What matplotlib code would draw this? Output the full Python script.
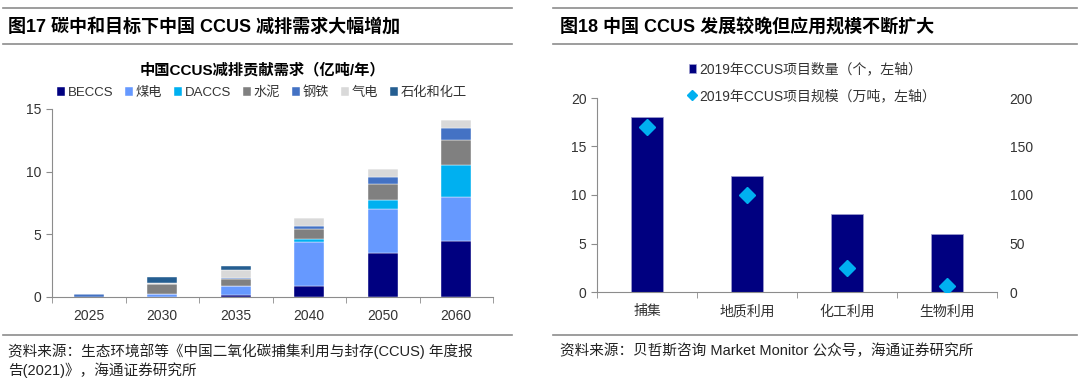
import matplotlib
matplotlib.use('Agg')
import matplotlib.pyplot as plt
from matplotlib.lines import Line2D
import numpy as np

plt.rcParams['font.family'] = ['Liberation Sans', 'Noto Sans CJK SC', 'DejaVu Sans']

# ---- data: figure 17 (亿吨/年) ----
years = ['2025', '2030', '2035', '2040', '2050', '2060']
series_names = ['BECCS', '煤电', 'DACCS', '水泥', '钢铁', '气电', '石化和化工']
beccs   = [0.0, 0.0, 0.15, 0.9, 3.5, 4.5]
coal    = [0.0, 0.2, 0.75, 3.5, 3.5, 3.5]
daccs   = [0.0, 0.0, 0.0, 0.2, 0.75, 2.5]
cement  = [0.0, 0.8, 0.5, 0.85, 1.3, 2.0]
steel   = [0.2, 0.0, 0.15, 0.25, 0.55, 1.0]
gas     = [0.0, 0.1, 0.6, 0.6, 0.6, 0.6]
petchem = [0.0, 0.5, 0.3, 0.0, 0.0, 0.0]
series_colors = ['#000080', '#6699ff', '#00b0f0', '#808080', '#4472c4', '#d9d9d9', '#255e91']

# ---- data: figure 18 ----
uses = ['捕集', '地质利用', '化工利用', '生物利用']
project_count = [18, 12, 8, 6]
project_scale = [170, 100, 25, 6]

W, H = 1080, 381
fig = plt.figure(figsize=(W / 100, H / 100), dpi=100)

def box(x0, y0, x1, y1):
    # pixel box (top-left origin) -> figure fraction rect
    return [x0 / W, 1 - y1 / H, (x1 - x0) / W, (y1 - y0) / H]

def hline(x0, x1, y, color='#8c8c8c', lw=1.2):
    fig.add_artist(Line2D([x0 / W, x1 / W], [1 - y / H, 1 - y / H], color=color, lw=lw))

# header / footer rules
for a, b in [(3, 512), (553, 1077)]:
    hline(a, b, 8)
    hline(a, b, 44)
    hline(a, b, 335)

fig.text(8 / W, 1 - 27 / H, '图17 碳中和目标下中国 CCUS 减排需求大幅增加', fontsize=13,
         fontweight='bold', va='center', ha='left')
fig.text(560 / W, 1 - 27 / H, '图18 中国 CCUS 发展较晚但应用规模不断扩大', fontsize=13,
         fontweight='bold', va='center', ha='left')

fig.text(8 / W, 1 - 351 / H, '资料来源：生态环境部等《中国二氧化碳捕集利用与封存(CCUS) 年度报',
         fontsize=10.5, va='center', ha='left', color='#222222')
fig.text(8 / W, 1 - 370 / H, '告(2021)》，海通证券研究所',
         fontsize=10.5, va='center', ha='left', color='#222222')
fig.text(560 / W, 1 - 351 / H, '资料来源：贝哲斯咨询 Market Monitor 公众号，海通证券研究所',
         fontsize=10.5, va='center', ha='left', color='#222222')

def style_axes(ax):
    ax.tick_params(axis='x', which='major', length=0, pad=9, labelsize=10, colors='#333333')
    ax.tick_params(axis='x', which='minor', length=4, color='#8c8c8c')
    ax.tick_params(axis='y', direction='out', length=4, width=0.8, color='#8c8c8c',
                   labelsize=10, labelcolor='#333333')
    for s in ['top', 'right']:
        ax.spines[s].set_visible(False)
    for s in ['left', 'bottom']:
        ax.spines[s].set_color('#8c8c8c')

# ---- left chart ----
ax1 = fig.add_axes(box(52, 109, 493, 297))
x = np.arange(len(years))
bottom = np.zeros(len(years))
handles = []
for name, vals, col in zip(series_names, [beccs, coal, daccs, cement, steel, gas, petchem], series_colors):
    h = ax1.bar(x, vals, 0.41, bottom=bottom, color=col, label=name, edgecolor='white', linewidth=0.3)
    bottom += np.array(vals)
    handles.append(h)
ax1.set_xlim(-0.5, len(years) - 0.5)
ax1.set_ylim(0, 15)
ax1.set_yticks([0, 5, 10, 15])
ax1.set_xticks(x)
ax1.set_xticklabels(years)
ax1.set_xticks(np.arange(-0.5, len(years)), minor=True)
style_axes(ax1)

fig.text(262 / W, 1 - 70 / H, '中国CCUS减排贡献需求（亿吨/年）', fontsize=11, fontweight='bold',
         ha='center', va='center')
fig.legend(handles=handles, loc='center', bbox_to_anchor=(262 / W, 1 - 93 / H), ncol=7,
           frameon=False, fontsize=9.5, handlelength=0.6, handleheight=0.6, handletextpad=0.2,
           columnspacing=0.9, labelcolor='#333333')

# ---- right chart ----
ax2 = fig.add_axes(box(597, 98, 997, 292))
x2 = np.arange(len(uses))
bars = ax2.bar(x2, project_count, 0.32, color='#000080', edgecolor='#a0a0d0', linewidth=0.5,
               label='2019年CCUS项目数量（个，左轴）')
ax2.set_xlim(-0.5, len(uses) - 0.5)
ax2.set_ylim(0, 20)
ax2.set_yticks([0, 5, 10, 15, 20])
ax2.set_xticks(x2)
ax2.set_xticklabels(uses)
ax2.set_xticks(np.arange(-0.5, len(uses)), minor=True)
style_axes(ax2)

ax3 = ax2.twinx()
pts, = ax3.plot(x2, project_scale, linestyle='none', marker='D', markersize=8, color='#00b0f0',
                label='2019年CCUS项目规模（万吨，左轴）')
ax3.set_ylim(0, 200)
ax3.set_yticks([0, 50, 100, 150, 200])
ax3.tick_params(axis='y', length=0, pad=9, labelsize=10, labelcolor='#333333')
for s in ax3.spines.values():
    s.set_visible(False)

fig.legend(handles=[bars, pts], loc='upper left', bbox_to_anchor=(676 / W, 1 - 50 / H),
           frameon=False, fontsize=10, handlelength=0.55, handleheight=0.55, handletextpad=0.25,
           labelspacing=0.9, labelcolor='#333333', markerscale=0.6)

fig.savefig('out.png', dpi=100)
